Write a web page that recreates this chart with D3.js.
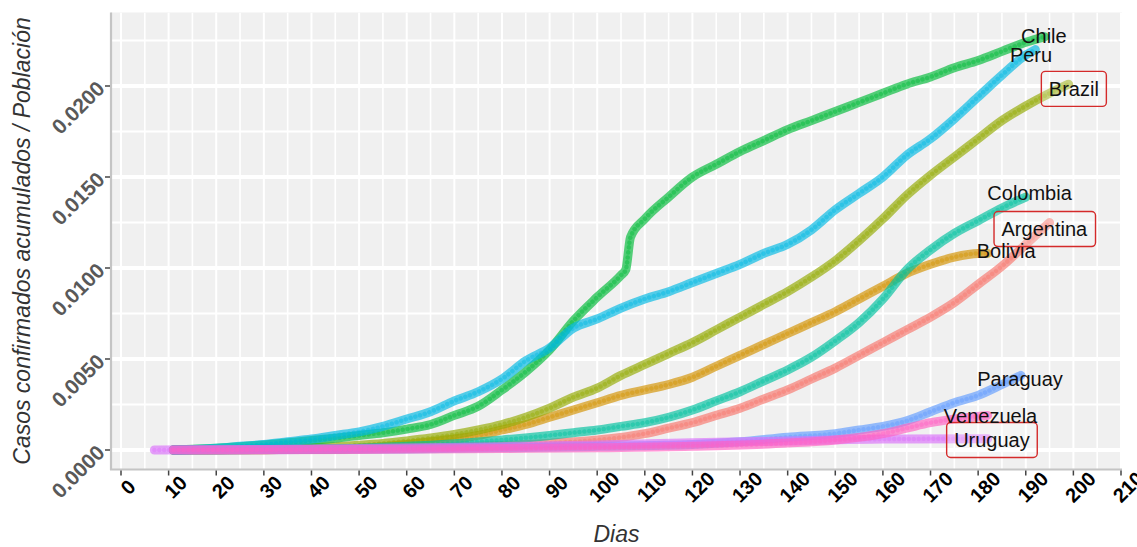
<!DOCTYPE html>
<html><head><meta charset="utf-8">
<script src="https://cdn.jsdelivr.net/npm/d3@7"></script>
<style>body{margin:0;background:#fff}svg{display:block}</style>
</head><body><svg id="c" width="1137" height="547"></svg>
<script>
const countries = ["Argentina","Bolivia","Brazil","Chile","Colombia","Peru","Paraguay","Uruguay","Venezuela"];
const colors = ["#F8766D","#D39200","#93AA00","#00BA38","#00C19F","#00B9E3","#619CFF","#DB72FB","#FF61C3"];
const xTicks = [0,10,20,30,40,50,60,70,80,90,100,110,120,130,140,150,160,170,180,190,200,210];
const yTicks = [0,0.005,0.01,0.015,0.02];
const yTickLabels = ["0.0000","0.0050","0.0100","0.0150","0.0200"];

const argentina = [[11,0],[30,0.00002],[50,0.00006],[60,0.0001],[70,0.00016],[80,0.00025],[90,0.00037],[100,0.00055],[110,0.0009],[115,0.0012],[120,0.0015],[125,0.0019],[130,0.0023],[135,0.0028],[140,0.0033],[145,0.0039],[150,0.0045],[155,0.0052],[160,0.0059],[165,0.0066],[170,0.0073],[175,0.0081],[180,0.0091],[185,0.0101],[190,0.0113],[195,0.0125]];
const bolivia = [[11,0],[30,0.00002],[40,0.00005],[50,0.0001],[55,0.00018],[60,0.0003],[65,0.00045],[70,0.0006],[75,0.0008],[80,0.0011],[85,0.0014],[90,0.0018],[95,0.0022],[100,0.0026],[105,0.003],[110,0.0033],[115,0.0036],[120,0.004],[125,0.0046],[130,0.0052],[135,0.0058],[140,0.0064],[145,0.007],[150,0.0076],[155,0.0083],[160,0.009],[165,0.0097],[170,0.0102],[175,0.0106],[180,0.0108],[182,0.0108]];
const brazil = [[11,0],[20,0.00002],[30,0.00005],[40,0.00012],[45,0.00018],[50,0.00026],[55,0.00036],[60,0.0005],[65,0.00066],[70,0.00085],[75,0.0011],[80,0.0014],[85,0.0018],[90,0.0023],[95,0.0029],[100,0.0034],[105,0.0041],[110,0.0047],[115,0.0053],[120,0.0059],[125,0.0066],[130,0.0073],[135,0.008],[140,0.0087],[145,0.0095],[150,0.0104],[155,0.0115],[160,0.0127],[165,0.014],[170,0.0151],[175,0.0161],[180,0.0171],[185,0.0181],[190,0.0189],[195,0.0196],[199,0.0201]];
const chile = [[11,0],[15,0.00004],[20,0.0001],[25,0.00018],[30,0.00028],[35,0.0004],[40,0.00052],[45,0.00065],[50,0.0008],[55,0.00095],[60,0.00115],[65,0.0014],[70,0.0019],[75,0.0024],[80,0.0033],[85,0.0043],[90,0.0055],[95,0.0071],[100,0.0084],[105,0.0096],[106,0.0099],[107,0.0117],[110,0.0127],[115,0.0139],[120,0.015],[125,0.0157],[130,0.0164],[135,0.017],[140,0.0176],[145,0.0181],[150,0.0186],[155,0.0191],[160,0.0196],[165,0.0201],[170,0.0205],[175,0.021],[180,0.0214],[185,0.0219],[190,0.0224],[194,0.0227]];
const colombia = [[11,0],[30,0.00003],[40,0.00006],[50,0.0001],[60,0.0002],[70,0.00035],[80,0.00055],[90,0.0008],[95,0.00095],[100,0.0011],[105,0.0013],[110,0.0015],[115,0.0018],[120,0.0022],[125,0.0027],[130,0.0032],[135,0.0038],[140,0.0044],[145,0.0051],[150,0.006],[155,0.007],[160,0.0083],[165,0.0099],[170,0.011],[175,0.0119],[180,0.0126],[185,0.0133],[190,0.0139]];
const peru = [[11,0],[15,0.00003],[20,0.0001],[25,0.0002],[30,0.0003],[35,0.00045],[40,0.0006],[45,0.0008],[50,0.001],[55,0.0013],[60,0.0017],[65,0.0021],[70,0.0027],[75,0.0032],[80,0.0039],[85,0.0049],[90,0.0056],[95,0.0067],[100,0.0072],[105,0.0078],[110,0.0083],[115,0.0087],[120,0.0092],[125,0.0097],[130,0.0102],[135,0.0108],[140,0.0113],[145,0.0121],[150,0.0132],[155,0.0141],[160,0.015],[165,0.0162],[170,0.0171],[175,0.0182],[180,0.0194],[185,0.0206],[190,0.0217],[192,0.022]];
const paraguay = [[11,0],[60,0.00005],[100,0.0002],[120,0.0003],[130,0.00045],[140,0.0007],[150,0.0009],[155,0.0011],[160,0.0013],[165,0.0016],[170,0.0021],[175,0.0026],[180,0.003],[185,0.0036],[189,0.0041]];
const uruguay = [[7,0],[30,0.00003],[50,0.00008],[80,0.00018],[100,0.00028],[120,0.0004],[140,0.0005],[160,0.0006],[182,0.00062]];
const venezuela = [[11,0],[50,0.00003],[80,0.00008],[100,0.00012],[120,0.0002],[140,0.00038],[150,0.00055],[160,0.0009],[165,0.0012],[170,0.0015],[175,0.0017],[182,0.0019]];
const seriesData = [argentina,bolivia,brazil,chile,colombia,peru,paraguay,uruguay,venezuela];

// label anchor positions (data units) as placed by the repel layout
const labelDay = [193.9,185.9,200.1,193.8,190.8,191.1,188.8,182.9,182.6];
const labelVal = [0.01214,0.01096,0.01984,0.02275,0.01412,0.0217,0.0039,0.00055,0.00187];
const boxed = ["Brazil","Argentina","Uruguay"];

const svg = d3.select("#c");
const P = {left:111, right:1122, top:12.5, bottom:469.5};
const x = d3.scaleLinear().domain([0,210]).range([121,1121]);
const y = d3.scaleLinear().domain([0,0.02]).range([450,86]);
const FONT = "Liberation Sans, Arial, sans-serif";

// panel
svg.append("rect").attr("x",P.left).attr("y",P.top).attr("width",P.right-P.left).attr("height",P.bottom-P.top).attr("fill","#f0f0f0");
svg.append("clipPath").attr("id","clip").append("rect").attr("x",P.left).attr("y",P.top).attr("width",P.right-P.left).attr("height",P.bottom-P.top);
const g = svg.append("g").attr("clip-path","url(#clip)");

// grid
const minorX = d3.range(5,215,10);
const minorY = [0.0025,0.0075,0.0125,0.0175,0.0225];
g.selectAll(".vmin").data(minorX).join("line").attr("x1",d=>x(d)).attr("x2",d=>x(d)).attr("y1",P.top).attr("y2",P.bottom).attr("stroke","#fff").attr("stroke-width",1.6);
g.selectAll(".vmaj").data(xTicks).join("line").attr("x1",d=>x(d)).attr("x2",d=>x(d)).attr("y1",P.top).attr("y2",P.bottom).attr("stroke","#fff").attr("stroke-width",2);
g.selectAll(".hmin").data(minorY).join("line").attr("y1",d=>y(d)).attr("y2",d=>y(d)).attr("x1",P.left).attr("x2",P.right).attr("stroke","#fff").attr("stroke-width",2);
g.selectAll(".hmaj").data(yTicks).join("line").attr("y1",d=>y(d)).attr("y2",d=>y(d)).attr("x1",P.left).attr("x2",P.right).attr("stroke","#fff").attr("stroke-width",3.8);

// series
const line = d3.line().x(d=>x(d[0])).y(d=>y(d[1])).curve(d3.curveMonotoneX);
seriesData.forEach((s,i)=>{
  g.append("path").attr("d",line(s)).attr("fill","none").attr("stroke",colors[i])
    .attr("stroke-width",9).attr("stroke-opacity",0.66).attr("stroke-linecap","round").attr("stroke-linejoin","round");
  g.append("path").attr("d",line(s)).attr("fill","none").attr("stroke",colors[i])
    .attr("stroke-width",4.5).attr("stroke-opacity",0.45).attr("stroke-linecap","round")
    .attr("stroke-dasharray","0.1 4.8");
});

// labels
const lab = svg.append("g").attr("font-family",FONT).attr("font-size",20);
countries.forEach((c,i)=>{
  const cx = x(labelDay[i]), cy = y(labelVal[i]);
  const t = lab.append("text").attr("x",cx).attr("y",cy).attr("dy","0.35em").attr("text-anchor","middle").attr("fill","#111").text(c);
  if (boxed.includes(c)) {
    const bb = t.node().getBBox();
    lab.insert("rect","text").attr("x",bb.x-7.5).attr("y",cy-17.5).attr("width",bb.width+15).attr("height",35)
      .attr("rx",4).attr("fill","#ffffff").attr("fill-opacity",0.25).attr("stroke","#d42a2a").attr("stroke-width",1.4);
  }
});

// axes lines
svg.append("line").attr("x1",P.left).attr("x2",P.left).attr("y1",P.top).attr("y2",P.bottom+0.5).attr("stroke","#c4c4c4").attr("stroke-width",2.2);
svg.append("line").attr("x1",P.left-1).attr("x2",P.right).attr("y1",P.bottom).attr("y2",P.bottom).attr("stroke","#c4c4c4").attr("stroke-width",2.2);

// ticks
svg.selectAll(".xt").data(xTicks).join("line").attr("x1",d=>x(d)).attr("x2",d=>x(d)).attr("y1",P.bottom+1).attr("y2",P.bottom+6).attr("stroke","#444").attr("stroke-width",1.5);
svg.selectAll(".yt").data(yTicks).join("line").attr("y1",d=>y(d)).attr("y2",d=>y(d)).attr("x1",P.left-6).attr("x2",P.left-1).attr("stroke","#444").attr("stroke-width",1.5);

svg.selectAll(".xl").data(xTicks).join("text")
  .attr("transform",d=>`translate(${x(d)+7},487) rotate(-45)`)
  .attr("text-anchor","middle").attr("dy","0.35em")
  .attr("font-family",FONT).attr("font-size",20).attr("font-weight","bold").attr("fill","#000")
  .text(d=>d);
svg.selectAll(".yl").data(yTicks).join("text")
  .attr("transform",(d)=>`translate(106,${y(d)+4}) rotate(-45)`)
  .attr("text-anchor","end")
  .attr("font-family",FONT).attr("font-size",21).attr("font-weight","bold").attr("fill","#595959")
  .text((d,i)=>yTickLabels[i]);

// axis titles
svg.append("text").attr("x",(P.left+P.right)/2).attr("y",542).attr("text-anchor","middle")
  .attr("font-family",FONT).attr("font-size",23).attr("font-style","italic").attr("fill","#333").text("Dias");
svg.append("text").attr("transform",`translate(30,${(P.top+P.bottom)/2}) rotate(-90)`).attr("text-anchor","middle")
  .attr("font-family",FONT).attr("font-size",23).attr("font-style","italic").attr("fill","#333")
  .text("Casos confirmados acumulados / Población");
</script></body></html>
